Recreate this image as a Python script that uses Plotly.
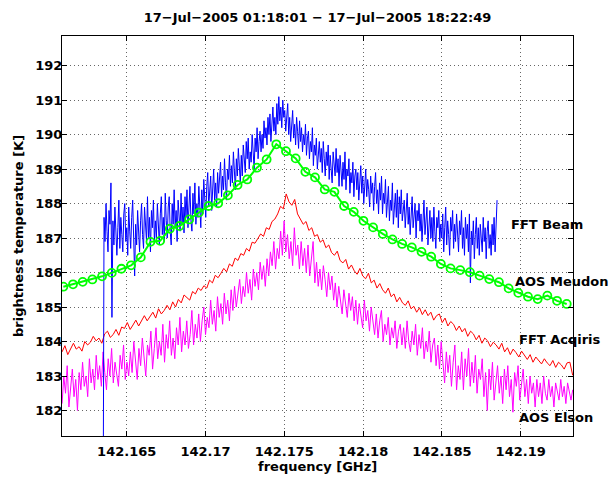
import numpy as np
import plotly.graph_objects as go

# ---------------- data ----------------
title_text = "17\u2212Jul\u22122005 01:18:01 \u2212 17\u2212Jul\u22122005 18:22:49"

x_tickvals = [142.165, 142.17, 142.175, 142.18, 142.185, 142.19]
x_ticktext = ["142.165", "142.17", "142.175", "142.18", "142.185", "142.19"]
y_tickvals = [182, 183, 184, 185, 186, 187, 188, 189, 190, 191, 192]

series_names = ["FFT Beam", "AOS Meudon", "FFT Acqiris", "AOS Elson"]

# FFT Beam (blue) channel grid and brightness temperatures
beam_f_start, beam_f_stop = 142.1635, 142.1885
beam_T = [
    178.0, 187.6, 186.9, 188.0, 187.2, 186.6, 187.8, 187.4, 188.6, 184.7, 187.5, 186.8, 187.9, 187.0, 186.5, 187.3, 188.1, 186.7, 187.6, 187.1,
    186.6, 187.7, 188.0, 186.9, 187.3, 186.5, 187.9, 187.2, 186.7, 187.6, 188.1, 187.0, 185.9, 187.4, 186.8, 187.8, 187.1, 186.6, 187.5, 188.0,
    187.1, 186.7, 187.9, 187.3, 186.9, 188.2, 187.0, 187.6, 186.6, 187.8, 187.3, 188.1, 186.9, 187.5, 187.0, 188.0, 187.4, 186.8, 187.7, 188.2,
    187.1, 187.6, 186.9, 188.3, 187.5, 187.0, 187.9, 188.2, 187.2, 186.8, 188.0, 187.4, 188.4, 187.3, 187.8, 186.9, 188.1, 187.6, 187.2, 188.3,
    187.4, 187.9, 187.15, 188.2, 187.6, 188.4, 187.3, 187.9, 188.5, 187.5, 187.2, 188.3, 187.7, 188.6, 187.4, 188.0, 187.6, 188.5, 187.8, 187.3,
    188.4, 187.7, 188.7, 188.1, 187.6, 188.5, 188.9, 187.9, 188.3, 188.8, 187.8, 188.4, 189.0, 188.1, 188.6, 187.9, 188.9, 188.3, 188.7, 189.2,
    188.2, 188.8, 188.4, 189.3, 188.6, 188.1, 189.0, 188.7, 189.4, 188.5, 189.1, 188.6, 189.5, 188.9, 188.4, 189.3, 188.8, 189.6, 189.0, 188.6,
    189.4, 188.8, 189.7, 189.2, 188.9, 189.8, 189.3, 189.9, 189.0, 189.5, 189.2, 190.0, 189.4, 189.0, 189.9, 189.5, 190.2, 189.3, 189.8, 190.1,
    189.5, 190.0, 189.6, 190.4, 189.9, 190.2, 189.7, 190.5, 190.0, 190.6, 189.8, 190.3, 190.8, 190.1, 190.5, 190.0, 190.9, 190.3, 191.1, 190.4,
    190.8, 190.2, 191.0, 190.5, 190.7, 190.1, 190.6, 190.9, 190.0, 190.5, 189.8, 190.4, 190.7, 189.9, 190.3, 189.7, 190.5, 190.1, 189.6, 190.4,
    189.8, 190.2, 189.5, 190.0, 189.7, 190.3, 189.4, 189.9, 190.1, 189.3, 189.8, 189.5, 190.2, 189.1, 189.7, 189.4, 189.9, 189.0, 189.6, 189.8,
    189.2, 189.6, 188.9, 189.8, 189.3, 188.8, 189.5, 189.1, 189.7, 188.7, 189.4, 189.0, 188.6, 189.5, 189.2, 188.8, 189.6, 188.9, 189.3, 188.5,
    189.4, 188.9, 188.5, 189.2, 188.7, 189.5, 188.4, 189.0, 188.8, 189.3, 188.3, 188.9, 188.6, 189.2, 188.2, 188.8, 189.0, 188.4, 188.9, 188.1,
    188.7, 189.1, 188.3, 188.8, 188.0, 188.6, 189.0, 188.2, 188.7, 188.4, 187.9, 188.8, 188.3, 188.6, 187.8, 188.5, 188.9, 188.0, 188.4, 187.7,
    188.6, 188.1, 188.8, 187.7, 188.3, 188.0, 188.7, 187.6, 188.2, 188.5, 187.5, 188.1, 187.8, 188.6, 187.4, 188.0, 188.3, 187.6, 188.4, 187.3,
    188.2, 187.7, 188.4, 187.5, 187.9, 188.1, 187.3, 187.8, 188.3, 187.4, 187.9, 187.1, 187.7, 188.2, 187.3, 187.6, 188.0, 187.0, 187.8, 187.5,
    188.0, 187.2, 187.7, 186.9, 187.6, 188.1, 187.1, 187.5, 187.9, 186.8, 187.4, 187.8, 187.0, 187.6, 186.9, 187.9, 187.2, 186.7, 187.6, 187.3,
    187.8, 186.9, 187.4, 187.0, 187.7, 186.6, 187.3, 187.9, 186.8, 187.5, 187.1, 186.5, 187.6, 187.2, 187.8, 186.7, 187.4, 186.9, 187.7, 187.0,
    186.6, 187.5, 187.1, 187.8, 186.7, 187.3, 186.5, 187.6, 187.0, 187.4, 186.6, 187.7, 185.7, 187.2, 186.8, 187.5, 186.4, 187.1, 187.6, 186.7,
    187.3, 186.5, 187.4, 187.0, 186.6, 187.6, 186.9, 187.3, 186.4, 187.2, 187.5, 186.7, 187.1, 186.5, 187.4, 186.8, 187.6, 186.6, 187.2, 188.1,
]

# AOS Meudon (green, circles)
meudon_f_start, meudon_f_stop = 142.16098, 142.19292
meudon_T = [
    185.59, 185.66, 185.73, 185.80, 185.89, 185.99, 186.11, 186.21, 186.44, 186.89,
    186.92, 187.27, 187.35, 187.54, 187.74, 187.93, 188.01, 188.24, 188.54, 188.70,
    189.04, 189.28, 189.72, 189.52, 189.31, 188.92, 188.76, 188.41, 188.34, 187.93,
    187.76, 187.50, 187.31, 187.12, 186.96, 186.83, 186.73, 186.60, 186.46, 186.25,
    186.12, 186.07, 186.01, 185.91, 185.81, 185.72, 185.54, 185.41, 185.30, 185.23,
    185.33, 185.18, 185.09,
]

# FFT Acqiris (red)
acqiris_f_start, acqiris_f_stop = 142.1609, 142.1933
acqiris_T = [
    183.70, 183.88, 183.62, 183.80, 183.95, 183.78, 183.85, 183.72, 184.00, 183.90,
    183.98, 184.15, 184.02, 184.10, 183.95, 184.22, 184.30, 184.12, 184.20, 184.35,
    184.18, 184.42, 184.38, 184.55, 184.35, 184.48, 184.62, 184.45, 184.58, 184.75,
    184.60, 184.72, 184.85, 184.68, 184.95, 184.80, 184.90, 185.05, 184.92, 185.15,
    185.00, 185.22, 185.12, 185.35, 185.28, 185.20, 185.45, 185.38, 185.55, 185.48,
    185.62, 185.55, 185.78, 185.70, 185.92, 185.85, 185.98, 186.12, 186.02, 186.25,
    186.18, 186.42, 186.35, 186.55, 186.50, 186.70, 186.62, 186.88, 186.85, 186.98,
    187.12, 187.05, 187.30, 187.25, 187.48, 187.55, 187.70, 187.92, 187.85, 188.28,
    188.05, 187.95, 188.12, 187.70, 187.55, 187.40, 187.48, 187.22, 187.30, 187.05,
    187.10, 186.88, 186.95, 186.72, 186.80, 186.58, 186.50, 186.62, 186.35, 186.28,
    186.38, 186.10, 186.22, 186.05, 185.95, 186.12, 185.90, 185.82, 185.98, 185.70,
    185.78, 185.55, 185.68, 185.50, 185.40, 185.55, 185.30, 185.38, 185.15, 185.28,
    185.12, 185.05, 185.18, 184.95, 185.02, 184.85, 184.98, 184.78, 184.92, 184.75,
    184.85, 184.62, 184.75, 184.80, 184.55, 184.68, 184.45, 184.58, 184.50, 184.32,
    184.45, 184.28, 184.38, 184.15, 184.30, 184.22, 184.05, 184.18, 183.95, 184.10,
    184.02, 183.85, 183.98, 183.90, 183.78, 183.95, 183.70, 183.82, 183.62, 183.78,
    183.68, 183.55, 183.72, 183.60, 183.48, 183.62, 183.40, 183.55, 183.45, 183.35,
    183.50, 183.38, 183.30, 183.45, 183.25, 183.40, 183.32, 183.20, 183.38, 183.40, 183.02,
]

# AOS Elson (magenta)
elson_f_start, elson_f_stop = 142.1609, 142.1933
elson_T = [
    182.2, 183.0, 182.5, 183.3, 182.1, 182.8, 183.2, 182.4, 182.9, 182.0, 183.1, 182.6, 183.4, 182.7, 183.0, 182.4, 183.5, 182.8, 183.2, 182.6,
    183.6, 182.9, 183.3, 182.7, 183.7, 183.1, 182.6, 183.5, 183.0, 183.8, 182.8, 183.4, 183.1, 182.7, 183.6, 183.2, 183.9, 182.9, 183.4, 183.0,
    183.7, 183.1, 184.0, 183.4, 182.9, 183.8, 183.3, 184.1, 183.5, 183.0, 183.9, 183.6, 184.3, 183.2, 183.8, 184.4, 183.5, 184.0, 183.6, 184.5,
    183.4, 184.2, 183.8, 184.6, 183.6, 184.1, 183.5, 184.4, 183.9, 184.7, 183.7, 184.3, 183.9, 184.6, 183.8, 184.2, 184.9, 183.9, 184.5, 184.1,
    184.8, 184.0, 184.6, 185.0, 184.2, 184.7, 184.4, 185.2, 184.5, 184.9, 184.3, 185.3, 184.7, 185.1, 184.5, 185.4, 184.8, 185.2, 184.6, 185.5,
    184.9, 185.6, 185.0, 185.4, 185.8, 185.1, 185.6, 185.3, 186.0, 185.4, 185.8, 185.2, 186.1, 185.6, 186.0, 185.5, 186.3, 185.8, 186.2, 185.6,
    186.4, 185.9, 186.6, 186.2, 186.9, 186.1, 186.7, 186.4, 187.2, 186.5, 187.5, 186.6, 187.1, 186.4, 186.9, 186.2, 187.3, 186.5, 186.8, 186.1,
    186.9, 186.2, 186.7, 186.0, 186.8, 185.9, 186.4, 186.9, 185.7, 186.3, 185.6, 186.1, 185.5, 186.2, 185.8, 185.3, 186.0, 185.5, 185.9, 185.2,
    185.7, 185.0, 185.6, 185.2, 184.8, 185.5, 185.1, 184.7, 185.4, 184.9, 185.3, 184.6, 185.2, 184.5, 185.1, 184.8, 184.4, 185.2, 184.6, 184.9,
    184.3, 185.0, 184.5, 184.2, 184.8, 184.1, 184.6, 184.9, 184.0, 184.5, 184.2, 184.7, 183.9, 184.4, 184.1, 184.6, 183.8, 184.3, 184.5, 183.9,
    184.4, 183.8, 184.6, 184.0, 183.7, 184.3, 183.9, 184.5, 183.6, 184.2, 183.8, 184.4, 183.5, 184.0, 183.7, 184.3, 183.4, 183.9, 184.1, 183.3,
    183.9, 183.2, 184.0, 183.4, 182.8, 183.7, 183.1, 183.6, 182.7, 183.4, 183.9, 182.6, 183.3, 182.9, 183.7, 182.6, 183.5, 183.0, 183.8, 182.7,
    183.4, 182.8, 183.6, 182.5, 183.2, 182.9, 183.5, 182.4, 183.1, 182.0, 183.2, 182.6, 183.4, 182.3, 182.9, 183.3, 182.5, 183.0, 182.2, 183.2,
    182.6, 183.3, 182.4, 182.9, 181.95, 183.1, 182.7, 183.3, 182.3, 182.8, 183.2, 182.4, 182.9, 182.2, 183.0, 182.5, 182.8, 182.1, 182.9, 182.4,
    182.8, 182.2, 183.0, 182.5, 182.3, 182.9, 182.4, 182.7, 182.1, 182.8, 182.5, 182.3, 182.9, 182.4, 182.7, 182.2, 182.8, 182.5, 182.3, 182.6,
]

x_range = [142.160895, 142.193319]
y_range = [181.26, 192.86]

# label anchor positions (data units) for the curve names
label_f = [142.18926, 142.18949, 142.18978, 142.18978]
label_T = [187.38, 185.73, 184.06, 181.80]

# ---------------- figure ----------------
beam_f = np.linspace(beam_f_start, beam_f_stop, len(beam_T))
meudon_f = np.linspace(meudon_f_start, meudon_f_stop, len(meudon_T))
acqiris_f = np.linspace(acqiris_f_start, acqiris_f_stop, len(acqiris_T))
elson_f = np.linspace(elson_f_start, elson_f_stop, len(elson_T))

FONT = "DejaVu Sans"

fig = go.Figure()
fig.add_trace(go.Scatter(x=acqiris_f, y=acqiris_T, mode="lines", name=series_names[2],
                         line=dict(color="#ff0000", width=1)))
fig.add_trace(go.Scatter(x=elson_f, y=elson_T, mode="lines", name=series_names[3],
                         line=dict(color="#ff00ff", width=1)))
fig.add_trace(go.Scatter(x=beam_f, y=beam_T, mode="lines", name=series_names[0],
                         line=dict(color="#0000ff", width=1)))
fig.add_trace(go.Scatter(x=meudon_f, y=meudon_T, mode="lines+markers", name=series_names[1],
                         line=dict(color="#00ff00", width=2),
                         marker=dict(symbol="circle-open", size=8,
                                     line=dict(color="#00ff00", width=1.8))))

for name, fx, ty in zip(series_names, label_f, label_T):
    fig.add_annotation(x=fx, y=ty, xref="x", yref="y", text=name, showarrow=False,
                       xanchor="left", yanchor="middle",
                       font=dict(family=FONT, size=13, color="black", weight="bold"))

# axis titles
fig.add_annotation(x=0.5, y=-(467 - 436) / 400, xref="paper", yref="paper",
                   text="frequency [GHz]", showarrow=False, xanchor="center", yanchor="middle",
                   font=dict(family=FONT, size=13, color="black", weight="bold"))
fig.add_annotation(x=(18 - 62) / 511, y=0.5, xref="paper", yref="paper",
                   text="brightness temperature [K]", showarrow=False, textangle=-90,
                   xanchor="center", yanchor="middle",
                   font=dict(family=FONT, size=13, color="black", weight="bold"))

axis_common = dict(
    showline=True, linecolor="black", linewidth=1, mirror="ticks",
    ticks="inside", ticklen=5, tickcolor="black", tickwidth=1,
    showgrid=True, gridcolor="rgba(0,0,0,0.6)", gridwidth=1, griddash="1px,3px",
    zeroline=False,
    tickfont=dict(family=FONT, size=13, color="black", weight="bold"),
)

fig.update_layout(
    width=613, height=477, autosize=False,
    margin=dict(l=62, r=40, t=36, b=41),
    paper_bgcolor="white", plot_bgcolor="white",
    showlegend=False,
    title=dict(text=title_text, x=0.5 * (62 + 573) / 613, xanchor="center",
               y=1 - 17 / 477, yanchor="middle", yref="container",
               font=dict(family=FONT, size=13, color="black", weight="bold")),
    xaxis=dict(range=x_range, tickvals=x_tickvals, ticktext=x_ticktext,
               ticklabelstandoff=3, **axis_common),
    yaxis=dict(range=y_range, tickvals=y_tickvals, ticklabelstandoff=-4, **axis_common),
)

fig.write_html("out.html", config={"displayModeBar": False},
               post_script="document.body.style.margin='0px';")
